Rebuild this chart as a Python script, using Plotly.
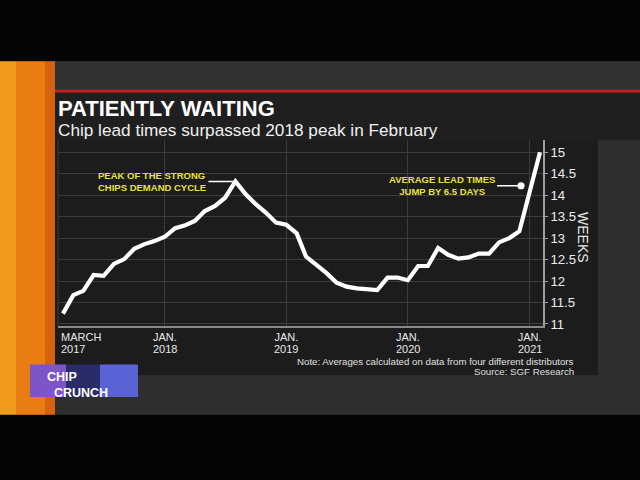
import plotly.graph_objects as go
import pandas as pd

# ---- data ----
months = pd.date_range("2017-03-01", "2021-02-01", freq="MS")
lead_weeks = [11.24, 11.67, 11.77, 12.14, 12.12, 12.40, 12.51, 12.75, 12.86, 12.93,
              13.03, 13.23, 13.29, 13.40, 13.63, 13.75, 13.94, 14.32, 14.02, 13.79,
              13.59, 13.36, 13.31, 13.11, 12.57, 12.38, 12.19, 11.96, 11.87, 11.83,
              11.81, 11.79, 12.08, 12.08, 12.02, 12.35, 12.35, 12.77, 12.61, 12.52,
              12.55, 12.64, 12.64, 12.90, 13.00, 13.16, 14.08, 15.00]
x_tick_dates = ["2018-01-01", "2019-01-01", "2020-01-01", "2021-01-01"]
x_tick_month = ["JAN.", "JAN.", "JAN.", "JAN."]
x_tick_year = ["2018", "2019", "2020", "2021"]
y_ticks = [11, 11.5, 12, 12.5, 13, 13.5, 14, 14.5, 15]
y_tick_text = ["11", "11.5", "12", "12.5", "13", "13.5", "14", "14.5", "15"]

W, H = 640, 480
def px(x):
    return x / W
def py(y):
    return 1 - y / H

FONT = "Liberation Sans, Arial, sans-serif"
YELLOW = "#e9e23c"
LABEL = "#e8e8e8"

fig = go.Figure()
fig.add_trace(go.Scatter(
    x=months, y=lead_weeks, mode="lines",
    line=dict(color="white", width=4.2),
    hoverinfo="skip", showlegend=False,
))

shapes = []
def rect(x0, y0, x1, y1, color):
    shapes.append(dict(type="rect", xref="paper", yref="paper",
                       x0=px(x0), x1=px(x1), y0=py(y1), y1=py(y0),
                       fillcolor=color, line=dict(width=0), layer="below"))

# background scene
rect(0, 62, 640, 420, "#2e2e2e")
rect(55, 62, 640, 92, "#323232")
rect(0, 62, 16, 420, "#f19b1d")
rect(16, 62, 45, 420, "#ea7c14")
rect(45, 62, 55, 420, "#d4620e")
rect(55, 91, 640, 94, "#c8201e")
rect(55, 94, 640, 142, "#1f1f1f")
rect(55, 142, 598, 380, "#1c1c1c")
# logo box
rect(30, 369, 66, 402, "#7d55c8")
rect(66, 369, 100, 402, "#2a2c6a")
rect(100, 369, 138, 402, "#5a62d6")

# left edge line of the plot
shapes.append(dict(type="line", xref="x domain", yref="y domain", x0=0, x1=0, y0=0, y1=1,
                   line=dict(color="#3c3c3c", width=1), layer="below"))

annotations = [
    dict(text="<b>PATIENTLY WAITING</b>", xref="paper", yref="paper", x=px(56), y=py(110),
         xanchor="left", yanchor="middle", showarrow=False,
         font=dict(family=FONT, size=22, color="white")),
    dict(text="Chip lead times surpassed 2018 peak in February", xref="paper", yref="paper",
         x=px(56), y=py(132), xanchor="left", yanchor="middle", showarrow=False,
         font=dict(family=FONT, size=17.2, color="#f0f0f0")),
    dict(text="MARCH", xref="paper", yref="paper", x=px(59), y=py(341.5),
         xanchor="left", yanchor="middle", showarrow=False,
         font=dict(family=FONT, size=11, color=LABEL)),
    dict(text="2017", xref="paper", yref="paper", x=px(59), y=py(353),
         xanchor="left", yanchor="middle", showarrow=False,
         font=dict(family=FONT, size=11, color=LABEL)),
    dict(text="WEEKS", xref="paper", yref="paper", x=px(583), y=py(240), textangle=90,
         xanchor="center", yanchor="middle", showarrow=False,
         font=dict(family=FONT, size=14, color=LABEL)),
    dict(text="Note: Averages calculated on data from four different distributors",
         xref="paper", yref="paper", x=px(576), y=py(366), xanchor="right", yanchor="middle",
         showarrow=False, font=dict(family=FONT, size=9.7, color="#e0e0e0")),
    dict(text="Source: SGF Research",
         xref="paper", yref="paper", x=px(576), y=py(376), xanchor="right", yanchor="middle",
         showarrow=False, font=dict(family=FONT, size=9.7, color="#e0e0e0")),
    dict(text="<b>CHIP</b><br><b>\u00a0\u00a0CRUNCH</b>", xref="paper", yref="paper",
         x=px(45), y=py(390), xanchor="left", yanchor="middle", align="left", showarrow=False,
         font=dict(family=FONT, size=12.5, color="white")),
]

# year line under each JAN. tick label
for d, yr in zip(x_tick_dates, x_tick_year):
    annotations.append(dict(text=yr, xref="x", yref="paper", x=d, y=py(353),
                            xanchor="center", yanchor="middle", showarrow=False,
                            font=dict(family=FONT, size=11, color=LABEL)))

peak_i = lead_weeks.index(max(lead_weeks[:30]))
annotations.append(dict(
    text="<b>PEAK OF THE STRONG<br>CHIPS DEMAND CYCLE</b>", x=months[peak_i], y=lead_weeks[peak_i],
    xref="x", yref="y", ax=-27, ay=0, xanchor="right", yanchor="middle", align="left",
    showarrow=True, arrowhead=0, arrowwidth=1.5, arrowcolor="white", standoff=0,
    font=dict(family=FONT, size=9.5, color=YELLOW)))
annotations.append(dict(
    text="<b>AVERAGE LEAD TIMES<br>JUMP BY 6.5 DAYS</b>", x="2020-12-06", y=14.22,
    xref="x", yref="y", ax=-24, ay=0, xanchor="right", yanchor="middle", align="center",
    showarrow=True, arrowhead=6, arrowsize=1.2, arrowwidth=1.5, arrowcolor="white", standoff=0,
    font=dict(family=FONT, size=9.5, color=YELLOW)))

fig.update_layout(
    width=W, height=H, margin=dict(l=0, r=0, t=0, b=0),
    paper_bgcolor="#050505", plot_bgcolor="rgba(0,0,0,0)",
    shapes=shapes, annotations=annotations, showlegend=False,
    xaxis=dict(domain=[px(58), px(543)], type="date",
               range=["2017-02-14", "2021-02-10"],
               tickvals=x_tick_dates, ticktext=x_tick_month,
               showgrid=True, gridcolor="#3c3c3c", gridwidth=1,
               showline=True, linecolor="#8a8a8a", linewidth=1.5,
               ticks="", zeroline=False,
               tickfont=dict(family=FONT, size=11, color=LABEL)),
    yaxis=dict(domain=[py(330), py(142)], side="right",
               range=[10.955, 15.28],
               tickvals=y_ticks, ticktext=y_tick_text,
               showgrid=True, gridcolor="#3c3c3c", gridwidth=1,
               showline=True, linecolor="#a0a0a0", linewidth=1.5,
               ticks="outside", ticklen=3, tickcolor="#a0a0a0",
               zeroline=False,
               tickfont=dict(family=FONT, size=13.2, color="#ececec")),
)

fig.write_html("out.html", config={"displayModeBar": False},
               post_script="document.body.style.margin='0';document.body.style.background='#050505';")
